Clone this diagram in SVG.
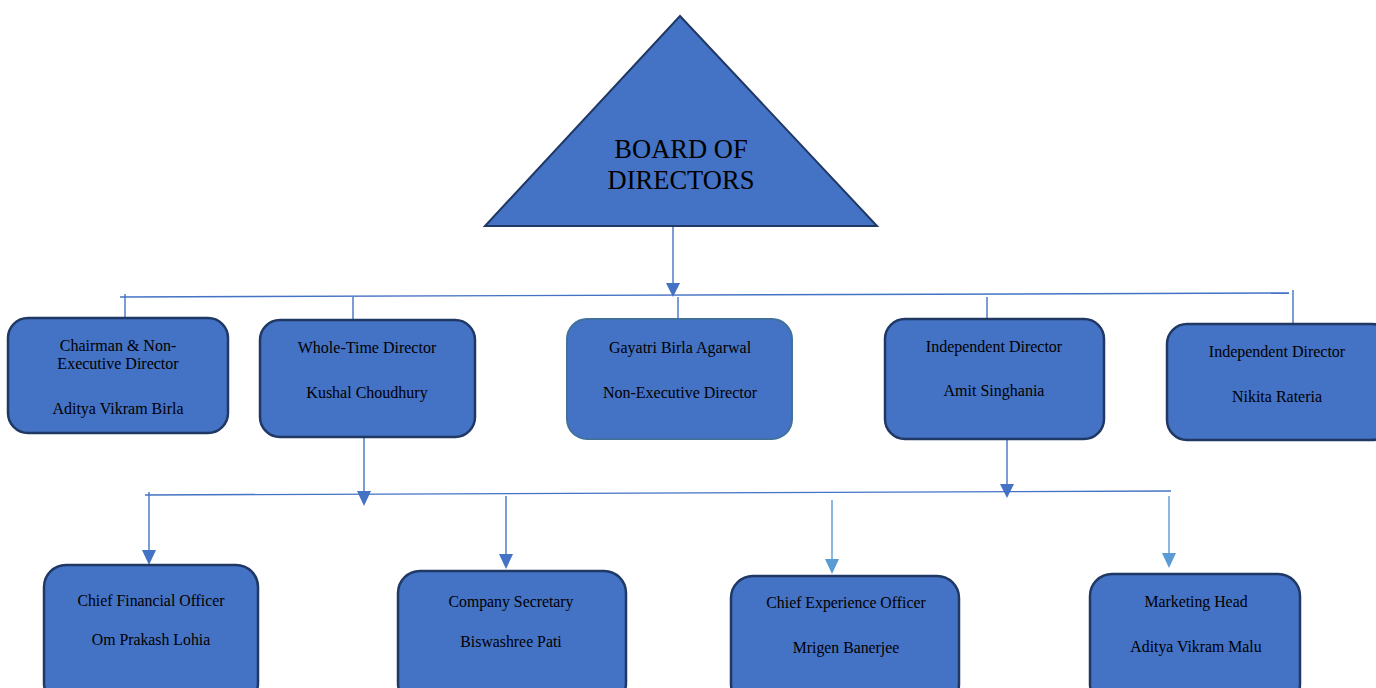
<svg xmlns="http://www.w3.org/2000/svg" width="1376" height="688" viewBox="0 0 1376 688">
  <style>
    .box { fill: #4472c4; stroke: #1f3864; stroke-width: 2.5; }
    .box-soft { fill: #4472c4; stroke: #41719c; stroke-width: 2; }
    .lbl { font-family: "Liberation Serif", "Times New Roman", serif; font-size: 16px; fill: #000; text-anchor: middle; }
    .lbl-c { font-family: "Liberation Serif", "Times New Roman", serif; font-size: 17px; fill: #000; text-anchor: middle; }
    .title { font-family: "Liberation Serif", "Times New Roman", serif; font-size: 26.5px; fill: #000; text-anchor: middle; }
    .ln { stroke: #4472c4; stroke-width: 1.4; fill: none; }
    .ln-l { stroke: #5b9bd5; stroke-width: 1.4; fill: none; }
    .ah { fill: #4472c4; }
    .ah-l { fill: #5b9bd5; }
  </style>

  <!-- connectors -->
  <g id="connectors">
    <!-- board to directors bus -->
    <line class="ln" x1="673" y1="226" x2="673" y2="288"/>
    <polygon class="ah" points="666,283 680,283 673,297"/>
    <line class="ln" x1="120" y1="297" x2="1289" y2="293"/>
    <line class="ln" x1="125" y1="294" x2="125" y2="318"/>
    <line class="ln" x1="353" y1="297" x2="353" y2="320"/>
    <line class="ln" x1="678" y1="297" x2="678" y2="319"/>
    <line class="ln" x1="987" y1="297" x2="987" y2="319"/>
    <line class="ln" x1="1293" y1="290" x2="1293" y2="325"/>

    <!-- directors to officers bus -->
    <line class="ln" x1="364" y1="437" x2="364" y2="495"/>
    <polygon class="ah" points="357,491 371,491 364,506"/>
    <line class="ln" x1="1007" y1="439" x2="1007" y2="488"/>
    <polygon class="ah" points="1000,484 1014,484 1007,498"/>
    <line class="ln" x1="145" y1="495" x2="1171" y2="491"/>
    <line class="ln" x1="149" y1="492" x2="149" y2="552"/>
    <polygon class="ah" points="142,550 156,550 149,565"/>
    <line class="ln" x1="506" y1="496" x2="506" y2="556"/>
    <polygon class="ah" points="499,554 513,554 506,569"/>
    <line class="ln-l" x1="832" y1="500" x2="832" y2="562"/>
    <polygon class="ah-l" points="825,559 839,559 832,574"/>
    <line class="ln-l" x1="1169" y1="496" x2="1169" y2="556"/>
    <polygon class="ah-l" points="1162,553 1176,553 1169,568"/>
  </g>

  <!-- top of hierarchy -->
  <g id="board">
    <polygon points="680,16 877,226 485,226" fill="#4472c4" stroke="#1f3864" stroke-width="2"/>
    <text class="title" x="681" y="158">BOARD OF</text>
    <text class="title" x="681" y="189">DIRECTORS</text>
  </g>

  <!-- directors -->
  <g id="chairman">
    <rect class="box" x="8" y="318" width="220" height="115" rx="20"/>
    <text class="lbl" x="118" y="351">Chairman &amp; Non-</text>
    <text class="lbl" x="118" y="369">Executive Director</text>
    <text class="lbl" x="118" y="414">Aditya Vikram Birla</text>
  </g>
  <g id="whole-time-director">
    <rect class="box" x="260" y="320" width="215" height="117" rx="20"/>
    <text class="lbl" x="367" y="353">Whole-Time Director</text>
    <text class="lbl" x="367" y="398">Kushal Choudhury</text>
  </g>
  <g id="non-executive-director">
    <rect class="box-soft" x="567" y="319" width="225" height="120" rx="20"/>
    <text class="lbl" x="680" y="353">Gayatri Birla Agarwal</text>
    <text class="lbl" x="680" y="398">Non-Executive Director</text>
  </g>
  <g id="independent-director-1">
    <rect class="box" x="885" y="319" width="219" height="120" rx="20"/>
    <text class="lbl" x="994" y="352">Independent Director</text>
    <text class="lbl" x="994" y="396">Amit Singhania</text>
  </g>
  <g id="independent-director-2">
    <rect class="box" x="1167" y="324" width="225" height="116" rx="20"/>
    <text class="lbl" x="1277" y="357">Independent Director</text>
    <text class="lbl" x="1277" y="402">Nikita Rateria</text>
  </g>

  <!-- officers -->
  <g id="cfo">
    <rect class="box" x="44" y="565" width="214" height="140" rx="22"/>
    <text class="lbl-c" x="151" y="606" transform="translate(151 0) scale(0.93 1) translate(-151 0)">Chief Financial Officer</text>
    <text class="lbl-c" x="151" y="645" transform="translate(151 0) scale(0.93 1) translate(-151 0)">Om Prakash Lohia</text>
  </g>
  <g id="company-secretary">
    <rect class="box" x="398" y="571" width="228" height="134" rx="22"/>
    <text class="lbl-c" x="511" y="607" transform="translate(511 0) scale(0.93 1) translate(-511 0)">Company Secretary</text>
    <text class="lbl-c" x="511" y="647" transform="translate(511 0) scale(0.93 1) translate(-511 0)">Biswashree Pati</text>
  </g>
  <g id="cxo">
    <rect class="box" x="731" y="576" width="228" height="130" rx="22"/>
    <text class="lbl-c" x="846" y="608" transform="translate(846 0) scale(0.93 1) translate(-846 0)">Chief Experience Officer</text>
    <text class="lbl-c" x="846" y="653" transform="translate(846 0) scale(0.93 1) translate(-846 0)">Mrigen Banerjee</text>
  </g>
  <g id="marketing-head">
    <rect class="box" x="1090" y="574" width="210" height="132" rx="22"/>
    <text class="lbl-c" x="1196" y="607" transform="translate(1196 0) scale(0.93 1) translate(-1196 0)">Marketing Head</text>
    <text class="lbl-c" x="1196" y="652" transform="translate(1196 0) scale(0.93 1) translate(-1196 0)">Aditya Vikram Malu</text>
  </g>
</svg>
